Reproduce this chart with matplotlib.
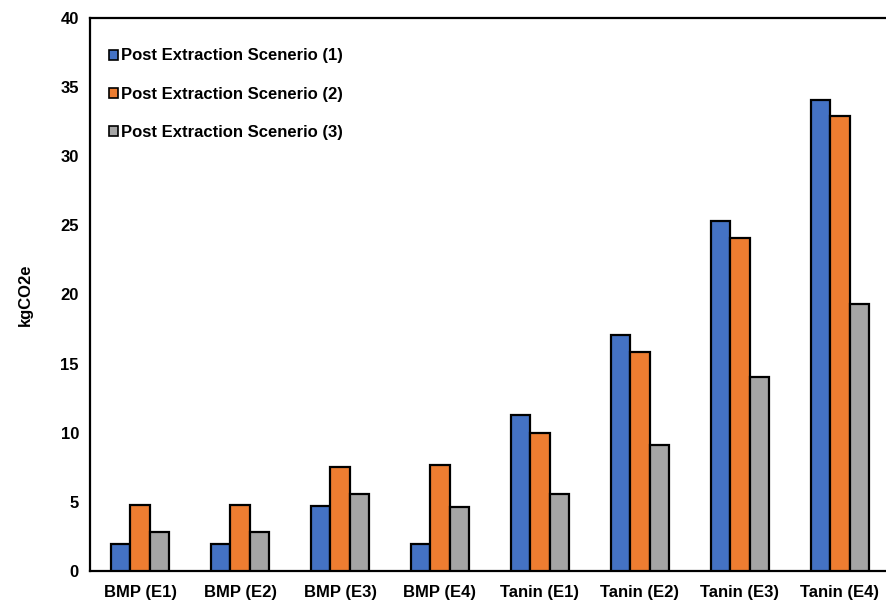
import numpy as np
import matplotlib
matplotlib.use("Agg")
from matplotlib import pyplot as plt

categories = ["BMP (E1)", "BMP (E2)", "BMP (E3)", "BMP (E4)",
              "Tanin (E1)", "Tanin (E2)", "Tanin (E3)", "Tanin (E4)"]
scenario_1 = [1.95, 1.95, 4.7, 1.95, 11.25, 17.05, 25.3, 34.1]
scenario_2 = [4.75, 4.75, 7.5, 7.65, 10.0, 15.85, 24.1, 32.9]
scenario_3 = [2.8, 2.8, 5.6, 4.6, 5.6, 9.15, 14.0, 19.3]
series_names = ["Post Extraction Scenerio (1)",
                "Post Extraction Scenerio (2)",
                "Post Extraction Scenerio (3)"]

plt.rcParams['font.family'] = ['Liberation Sans', 'DejaVu Sans']
plt.rcParams['font.weight'] = 'bold'

fig = plt.figure(figsize=(8.86, 6), dpi=100)
ax = fig.add_axes([90 / 886, 29 / 600, 800 / 886, 553 / 600])

barWidth = 0.195
r = np.arange(len(categories))
colors = ['#4472C4', '#ED7D31', '#A5A5A5']
for i, (vals, name) in enumerate(zip([scenario_1, scenario_2, scenario_3], series_names)):
    ax.bar(r + (i - 1) * barWidth, vals, width=barWidth, color=colors[i],
           edgecolor='black', linewidth=1.6, label=name, zorder=3)

ax.set_xlim(-0.5, len(categories) - 0.5)
ax.set_ylim(0, 40)
ax.set_yticks(np.arange(0, 41, 5))
ax.set_xticks(r)
ax.set_xticklabels(categories)
ax.tick_params(axis='both', length=0, labelsize=12)
ax.tick_params(axis='y', pad=8)
ax.tick_params(axis='x', pad=10)
for label in ax.get_xticklabels() + ax.get_yticklabels():
    label.set_fontweight('bold')

ax.set_ylabel('kgCO2e', fontsize=12, fontweight='bold', labelpad=20)

for side in ['left', 'right', 'top', 'bottom']:
    ax.spines[side].set_linewidth(1.6)
    ax.spines[side].set_color('black')

leg = ax.legend(loc='upper left', bbox_to_anchor=(0.005, 0.972), frameon=False,
                handlelength=0.55, handleheight=0.55, handletextpad=0.15,
                labelspacing=1.4, prop={'size': 12, 'weight': 'bold'})
for h in leg.legend_handles:
    h.set_linewidth(1.2)

fig.savefig('out.png', dpi=100)
